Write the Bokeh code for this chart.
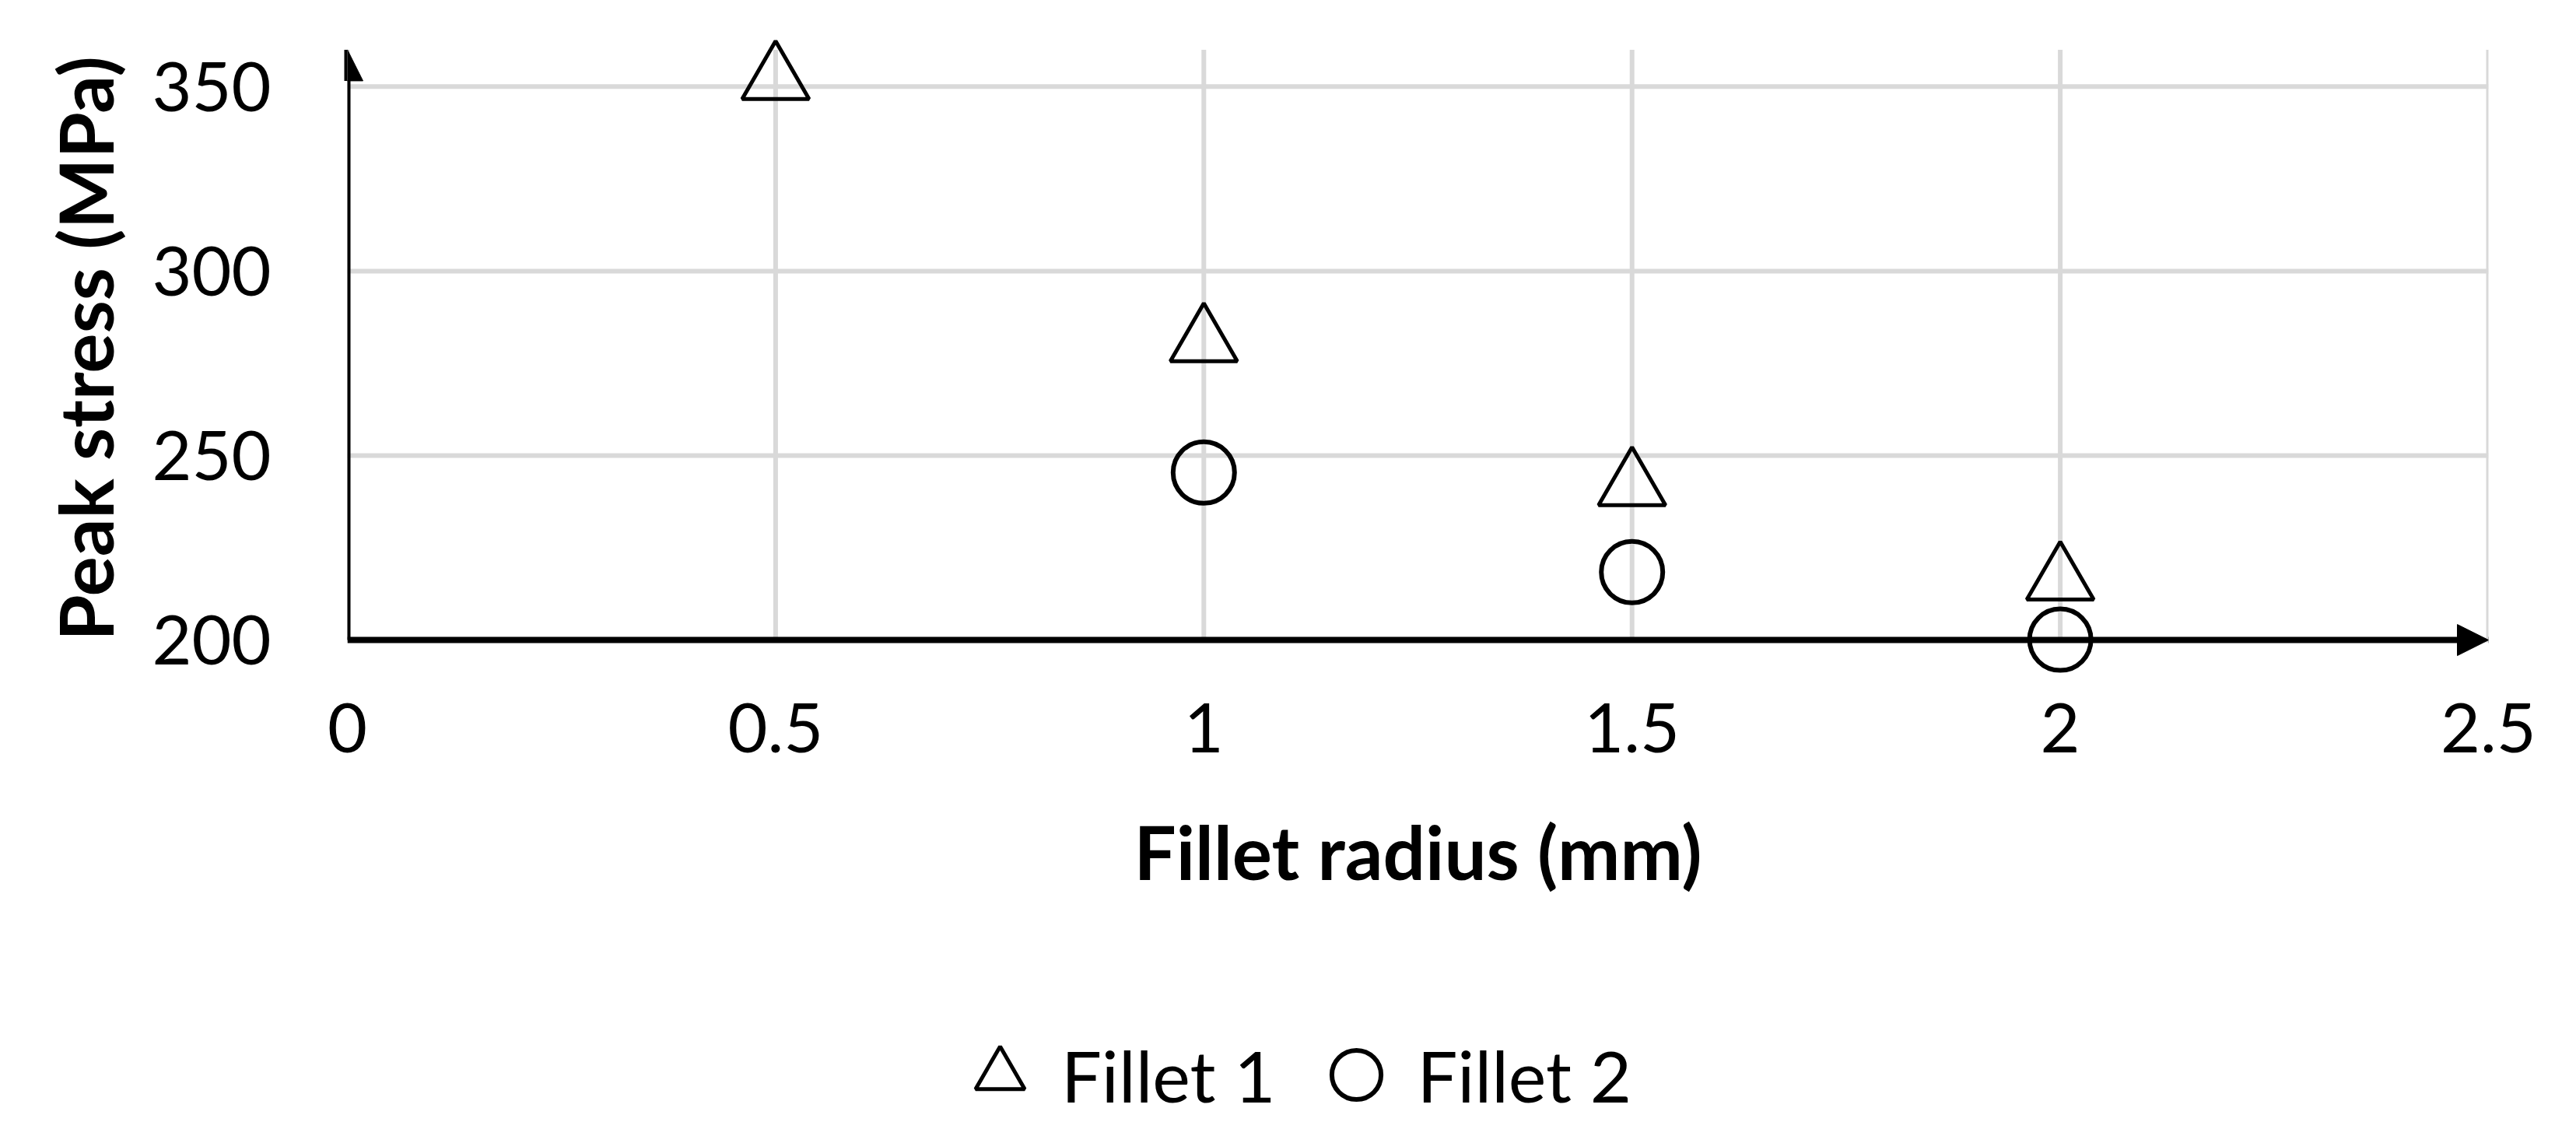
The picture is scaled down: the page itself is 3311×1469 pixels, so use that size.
from bokeh.plotting import figure
from bokeh.layouts import column
from bokeh.models import (FixedTicker, Legend, LegendItem, Range1d, Arrow, NormalHead,
                          ColumnDataSource)
from bokeh.transform import dodge
from bokeh.embed import file_html
from bokeh.resources import INLINE

# ---- data ----
x_f1 = [0.5, 1.0, 1.5, 2.0]
y_f1 = [354.5, 283.4, 244.4, 218.8]
x_f2 = [1.0, 1.5, 2.0]
y_f2 = [245.4, 218.4, 200.1]
series_names = ["Fillet 1", "Fillet 2"]
x_ticks = [0, 0.5, 1, 1.5, 2, 2.5]
x_tick_labels = ["0", "0.5", "1", "1.5", "2", "2.5"]
y_ticks = [200, 250, 300, 350]
y_tick_labels = ["200", "250", "300", "350"]
x_title = "Fillet radius (mm)"
y_title = "Peak stress (MPa)"

# axis extent (arrow tips) and a little padding so markers are not clipped
X0, X1 = 0, 2.5
Y0, Y1 = 200, 360
PAD_LO, PAD_HI = 12, 10

W, H = 3311, 1469
H_MAIN = 1290
H_LEG = H - H_MAIN
FONT = "Lato"
FRAME_LEFT = 446
FRAME_BOTTOM = 879

p = figure(width=W, height=H_MAIN, output_backend="svg", toolbar_location=None,
           x_range=Range1d(X0, X1), y_range=Range1d(Y0 - PAD_LO, Y1 + PAD_HI),
           min_border_left=FRAME_LEFT, min_border_right=W - 3198, min_border_top=16,
           min_border_bottom=H_MAIN - FRAME_BOTTOM)
p.outline_line_color = None
p.background_fill_color = "white"
p.xgrid.visible = False
p.ygrid.visible = False

# grid lines limited to the axis extent
GRID = dict(line_color="#d9d9d9", line_width=6)
p.segment(x0=x_ticks, y0=[Y0] * len(x_ticks), x1=x_ticks, y1=[Y1] * len(x_ticks), **GRID)
p.segment(x0=[X0] * len(y_ticks), y0=y_ticks, x1=[X1] * len(y_ticks), y1=y_ticks, **GRID)

# axes
for ax in (p.xaxis, p.yaxis):
    ax.axis_line_color = None
    ax.major_tick_line_color = None
    ax.minor_tick_line_color = None
    ax.major_tick_out = 0
    ax.major_tick_in = 0
    ax.major_label_text_font = FONT
    ax.major_label_text_font_size = "88px"
    ax.major_label_text_color = "black"
    ax.axis_label_text_font = FONT
    ax.axis_label_text_font_size = "96px"
    ax.axis_label_text_font_style = "bold"
    ax.axis_label_text_color = "black"

p.xaxis.ticker = FixedTicker(ticks=x_ticks)
p.xaxis.major_label_overrides = {t: l for t, l in zip(x_ticks, x_tick_labels)}
p.yaxis.ticker = FixedTicker(ticks=y_ticks)
p.yaxis.major_label_overrides = {t: l for t, l in zip(y_ticks, y_tick_labels)}
p.xaxis.axis_label = x_title
p.yaxis.axis_label = y_title
p.xaxis.major_label_standoff = 24
p.xaxis.axis_label_standoff = 66
p.yaxis.major_label_standoff = 98
p.yaxis.axis_label_standoff = 26

# axis lines with arrow heads
p.add_layout(Arrow(x_start=X0, y_start=Y0, x_end=X0, y_end=Y1,
                   line_width=8, line_color="black",
                   end=NormalHead(size=40, fill_color="black", line_color="black", line_width=1)))
p.add_layout(Arrow(x_start=X0, y_start=Y0, x_end=X1, y_end=Y0,
                   line_width=8, line_color="black",
                   end=NormalHead(size=40, fill_color="black", line_color="black", line_width=1)))

STYLE1 = dict(marker="triangle", fill_alpha=0, line_color="black", line_width=5)
STYLE2 = dict(marker="circle", fill_alpha=0, line_color="black", line_width=6)
src1 = ColumnDataSource(dict(x=x_f1, y=y_f1))
src2 = ColumnDataSource(dict(x=x_f2, y=y_f2))
# bokeh centres a triangle on its centroid; shift so its bounding box is centred on the value
p.scatter("x", dodge("y", -2.6, range=p.y_range), source=src1, size=86, **STYLE1)
p.scatter("x", "y", source=src2, size=79, **STYLE2)

# ---- legend strip below the chart ----
pl = figure(width=W, height=H_LEG, output_backend="svg", toolbar_location=None,
            x_range=Range1d(0, 1), y_range=Range1d(0, 1), min_border=0)
pl.axis.visible = False
pl.grid.visible = False
pl.outline_line_color = None
l1 = pl.scatter("x", "y", source=src1, **STYLE1)   # out of this strip's range: legend only
l2 = pl.scatter("x", "y", source=src2, **STYLE2)
legend = Legend(items=[LegendItem(label=series_names[0], renderers=[l1]),
                       LegendItem(label=series_names[1], renderers=[l2])],
                orientation="horizontal", location=(1206 - FRAME_LEFT, 9),
                glyph_width=158, glyph_height=158, label_standoff=0,
                spacing=24, padding=0, margin=0,
                border_line_alpha=0, background_fill_alpha=0,
                label_text_font=FONT, label_text_font_size="92px",
                label_text_color="black")
pl.add_layout(legend, "center")

layout = column(p, pl, spacing=0)
open("out.html", "w").write(file_html(layout, INLINE))
